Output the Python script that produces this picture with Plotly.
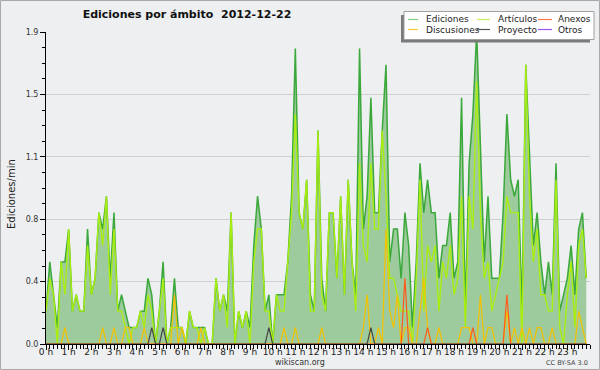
import plotly.graph_objects as go

# ---- data (edits per minute, 10-minute bins, 2012-12-22) ----
times = [f"{h:02d}:{m:02d}" for h in range(24) for m in range(0, 60, 10)]

ediciones = [
    0.2, 0.5, 0.3, 0.1, 0.5, 0.5, 0.7, 0.2, 0.3, 0.2, 0.2, 0.7,
    0.3, 0.4, 0.8, 0.7, 0.9, 0.4, 0.8, 0.2, 0.3, 0.2, 0.1, 0.1,
    0.1, 0.2, 0.2, 0.4, 0.3, 0.0, 0.2, 0.5, 0.0, 0.1, 0.4, 0.1,
    0.1, 0.0, 0.2, 0.1, 0.1, 0.1, 0.1, 0.0, 0.0, 0.4, 0.2, 0.3,
    0.2, 0.8, 0.0, 0.2, 0.1, 0.2, 0.1, 0.6, 0.9, 0.7, 0.2, 0.3,
    0.0, 0.3, 0.3, 0.3, 0.5, 0.9, 1.8, 0.8, 0.7, 1.0, 0.3, 0.2,
    1.3, 0.4, 0.2, 0.8, 0.8, 0.4, 0.9, 0.3, 1.0, 0.5, 0.3, 1.8,
    0.7, 0.9, 1.5, 0.8, 0.8, 1.3, 1.7, 0.5, 0.7, 0.7, 0.4, 0.8,
    0.6, 0.1, 0.5, 1.1, 0.8, 1.0, 0.8, 0.8, 0.4, 0.6, 0.6, 0.8,
    0.4, 0.5, 1.5, 0.2, 1.1, 1.4, 1.9, 1.2, 0.5, 0.9, 0.4, 0.4,
    0.4, 0.8, 1.4, 1.0, 0.9, 1.0, 0.2, 1.7, 1.1, 0.6, 0.8, 0.5,
    0.3, 0.5, 0.3, 1.1, 0.2, 0.3, 0.4, 0.6, 0.3, 0.7, 0.8, 0.4,
]

articulos = [
    0.2, 0.4, 0.3, 0.0, 0.5, 0.3, 0.7, 0.2, 0.3, 0.2, 0.2, 0.6,
    0.3, 0.4, 0.8, 0.6, 0.9, 0.3, 0.7, 0.2, 0.2, 0.1, 0.0, 0.1,
    0.1, 0.2, 0.1, 0.3, 0.2, 0.0, 0.2, 0.4, 0.0, 0.1, 0.1, 0.1,
    0.1, 0.0, 0.2, 0.1, 0.1, 0.0, 0.1, 0.0, 0.0, 0.4, 0.2, 0.3,
    0.1, 0.8, 0.0, 0.2, 0.1, 0.2, 0.0, 0.5, 0.7, 0.7, 0.2, 0.2,
    0.0, 0.3, 0.2, 0.2, 0.5, 0.8, 1.4, 0.8, 0.7, 1.0, 0.2, 0.2,
    1.3, 0.3, 0.2, 0.8, 0.8, 0.4, 0.9, 0.3, 1.0, 0.5, 0.2, 1.1,
    0.6, 0.5, 1.1, 0.7, 0.7, 1.3, 0.9, 0.4, 0.4, 0.3, 0.2, 0.2,
    0.2, 0.0, 0.4, 1.0, 0.2, 0.6, 0.5, 0.6, 0.2, 0.5, 0.4, 0.6,
    0.3, 0.4, 0.9, 0.1, 0.9, 0.7, 1.6, 0.8, 0.4, 0.5, 0.2, 0.3,
    0.4, 0.5, 0.9, 0.8, 0.8, 0.8, 0.0, 1.7, 0.9, 0.5, 0.7, 0.3,
    0.3, 0.2, 0.2, 1.0, 0.1, 0.0, 0.3, 0.5, 0.1, 0.6, 0.7, 0.4,
]

discusiones = [
    0.0, 0.0, 0.0, 0.0, 0.0, 0.1, 0.0, 0.0, 0.0, 0.0, 0.0, 0.0,
    0.0, 0.0, 0.0, 0.1, 0.0, 0.0, 0.1, 0.0, 0.0, 0.1, 0.1, 0.0,
    0.0, 0.0, 0.1, 0.0, 0.0, 0.0, 0.0, 0.0, 0.0, 0.0, 0.3, 0.0,
    0.1, 0.0, 0.0, 0.0, 0.0, 0.1, 0.0, 0.0, 0.0, 0.0, 0.0, 0.0,
    0.0, 0.0, 0.0, 0.0, 0.0, 0.0, 0.0, 0.0, 0.0, 0.0, 0.0, 0.0,
    0.0, 0.0, 0.0, 0.1, 0.0, 0.0, 0.1, 0.0, 0.0, 0.0, 0.0, 0.0,
    0.0, 0.1, 0.0, 0.0, 0.0, 0.0, 0.0, 0.0, 0.0, 0.0, 0.0, 0.0,
    0.1, 0.3, 0.0, 0.0, 0.1, 0.0, 0.7, 0.2, 0.1, 0.3, 0.0, 0.1,
    0.1, 0.0, 0.0, 0.2, 0.4, 0.1, 0.0, 0.0, 0.1, 0.0, 0.0, 0.0,
    0.0, 0.0, 0.1, 0.1, 0.1, 0.0, 0.0, 0.3, 0.0, 0.1, 0.1, 0.0,
    0.0, 0.0, 0.2, 0.0, 0.1, 0.0, 0.1, 0.0, 0.1, 0.0, 0.1, 0.1,
    0.0, 0.0, 0.1, 0.0, 0.0, 0.0, 0.0, 0.0, 0.0, 0.2, 0.1, 0.0,
]

anexos = [0.0] * 144
anexos_points = {95: 0.4, 101: 0.1, 113: 0.1, 122: 0.3}
proyecto = [0.0] * 144
proyecto_points = {28: 0.1, 31: 0.1, 59: 0.1, 86: 0.1}
otros = [0.0] * 144
for k, v in anexos_points.items():
    anexos[k] = v
for k, v in proyecto_points.items():
    proyecto[k] = v

hour_labels = [f"{h} h" for h in range(24)]
y_ticks = [0, 0.38, 0.76, 1.14, 1.52, 1.9]
y_labels = ["0.0", "0.4", "0.8", "1.1", "1.5", "1.9"]

x = [int(t[:2]) + int(t[3:]) / 60 for t in times]

# ---- styling ----
BG = "#eeeff0"
C_ED_LINE = "#3aa83a"
C_ED_FILL = "#9ecb9e"
C_ART = "#aaee11"
C_DIS = "#f5c200"
C_ANX = "#ff5a1a"
C_PRO = "#444444"
C_OTR = "#8a4fe0"

FONT = "DejaVu Sans"

fig = go.Figure()
fig.add_trace(go.Scatter(x=x, y=otros, name="Otros", mode="lines",
                         line=dict(color=C_OTR, width=1)))
fig.add_trace(go.Scatter(x=x, y=ediciones, name="Ediciones", mode="lines",
                         line=dict(color=C_ED_LINE, width=1.5),
                         fill="tozeroy", fillcolor=C_ED_FILL))
fig.add_trace(go.Scatter(x=x, y=articulos, name="Artículos", mode="lines",
                         line=dict(color=C_ART, width=1.4)))
fig.add_trace(go.Scatter(x=x, y=discusiones, name="Discusiones", mode="lines",
                         line=dict(color=C_DIS, width=1.2)))
fig.add_trace(go.Scatter(x=x, y=anexos, name="Anexos", mode="lines",
                         line=dict(color=C_ANX, width=1.2)))
fig.add_trace(go.Scatter(x=x, y=proyecto, name="Proyecto", mode="lines",
                         line=dict(color=C_PRO, width=1.2)))

L, R, T, B = 46, 10, 32, 26
W, H = 600, 370
PW, PH = W - L - R, H - T - B


def px(v):
    return (v - L) / PW


def py(v):
    return (H - B - v) / PH


shapes = []
annotations = []

# outer frame
shapes.append(dict(type="rect", xref="paper", yref="paper",
                   x0=px(0.5), x1=px(599.5), y0=py(369.5), y1=py(0.5),
                   line=dict(color="#a8a8a8", width=1), layer="below"))

# legend: shadow, box, entries
shapes.append(dict(type="rect", xref="paper", yref="paper",
                   x0=px(401), x1=px(590), y0=py(42.5), y1=py(15),
                   fillcolor="#7a7a7a", line=dict(width=0)))
shapes.append(dict(type="rect", xref="paper", yref="paper",
                   x0=px(404), x1=px(594), y0=py(39.5), y1=py(11.5),
                   fillcolor="white", line=dict(color="#a0a0a0", width=1)))

legend_items = [
    ("Ediciones", "#80cc80", 408, 418, 424, 19.5),
    ("Artículos", "#c8ee55", 477, 490, 496, 19.5),
    ("Anexos", "#ff7a48", 538, 552, 556, 19.5),
    ("Discusiones", "#ffcc33", 408, 418, 424, 29.5),
    ("Proyecto", "#555555", 477, 490, 496, 29.5),
    ("Otros", "#9955ee", 538, 552, 556, 29.5),
]
for name, col, lx0, lx1, tx, ty in legend_items:
    shapes.append(dict(type="line", xref="paper", yref="paper",
                       x0=px(lx0), x1=px(lx1), y0=py(ty), y1=py(ty),
                       line=dict(color=col, width=1.2)))
    annotations.append(dict(text=name, xref="paper", yref="paper",
                            x=px(tx), y=py(ty), xanchor="left", yanchor="middle",
                            showarrow=False,
                            font=dict(family=FONT, size=9, color="#222222")))

annotations.append(dict(text="Ediciones/min", xref="paper", yref="paper",
                        x=px(12), y=py(194), textangle=-90,
                        xanchor="center", yanchor="middle", showarrow=False,
                        font=dict(family=FONT, size=10, color="#222222")))
annotations.append(dict(text="wikiscan.org", xref="paper", yref="paper",
                        x=px(300), y=py(362.5), xanchor="center", yanchor="middle",
                        showarrow=False,
                        font=dict(family=FONT, size=8, color="#333333")))
annotations.append(dict(text="CC BY-SA 3.0", xref="paper", yref="paper",
                        x=px(590), y=py(362.5), xanchor="right", yanchor="middle",
                        showarrow=False,
                        font=dict(family=FONT, size=6.5, color="#444444")))

fig.update_layout(
    width=W, height=H,
    margin=dict(l=L, r=R, t=T, b=B, pad=0),
    paper_bgcolor=BG, plot_bgcolor=BG,
    showlegend=False,
    title=dict(text="<b>Ediciones por ámbito  2012-12-22</b>",
               x=187 / W, y=1 - 14 / H, xref="container", yref="container",
               xanchor="center", yanchor="middle",
               font=dict(family=FONT, size=11, color="#111111")),
    shapes=shapes,
    annotations=annotations,
    xaxis=dict(range=[0, 24], tickmode="array", tickvals=list(range(24)),
               ticktext=hour_labels, showgrid=False, zeroline=False,
               showline=True, linecolor="black", linewidth=1,
               ticks="outside", ticklen=5, tickcolor="black", tickwidth=1,
               ticklabelstandoff=-6,
               tickfont=dict(family=FONT, size=9, color="#222222"),
               minor=dict(dtick=1 / 6, tick0=0, ticks="outside", ticklen=4,
                          tickcolor="black", tickwidth=1, showgrid=False),
               fixedrange=True),
    yaxis=dict(range=[0, 1.9], tickmode="array", tickvals=y_ticks,
               ticktext=y_labels, showgrid=True, gridcolor="#cfcfcf",
               gridwidth=1, zeroline=False,
               showline=True, linecolor="black", linewidth=1,
               ticks="outside", ticklen=5, tickcolor="black", tickwidth=1,
               tickfont=dict(family=FONT, size=8, color="#333333"),
               minor=dict(dtick=0.095, tick0=0, ticks="outside", ticklen=3,
                          tickcolor="black", tickwidth=1, showgrid=False),
               fixedrange=True),
)

fig.write_html("out.html",
               config={"displayModeBar": False},
               post_script="document.body.style.margin='0';document.body.style.padding='0';")
